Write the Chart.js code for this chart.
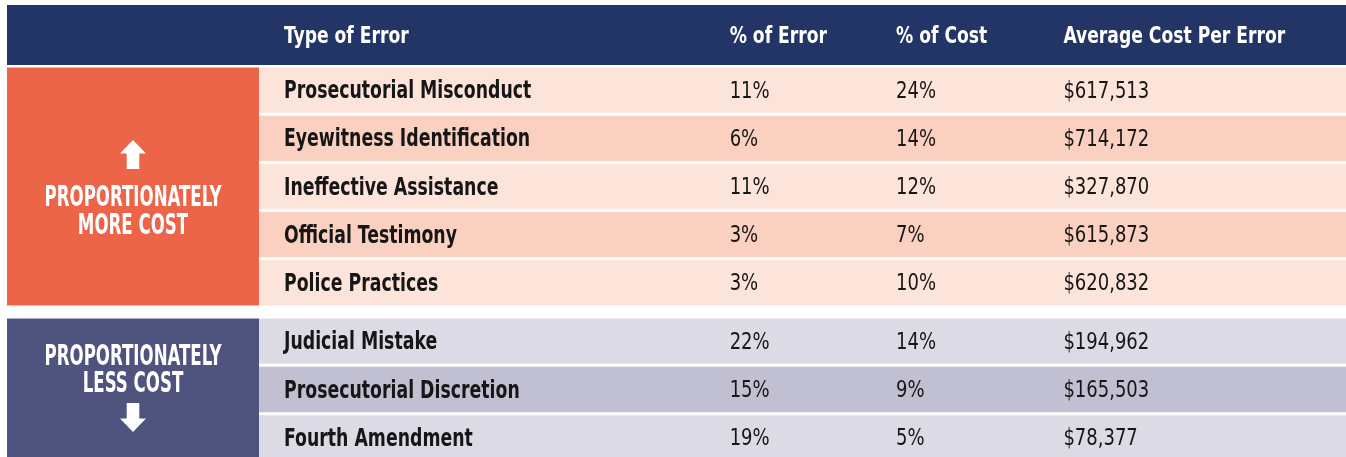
<!DOCTYPE html>
<html>
<head>
<meta charset="utf-8">
<script src="https://cdn.jsdelivr.net/npm/chart.js@4.4.1/dist/chart.umd.min.js"></script>
<style>
    html, body { margin: 0; padding: 0; background: #fff; overflow: hidden; }
    body { width: 1346px; height: 457px; position: relative; }
    canvas { position: absolute; left: 7px; }
    #chart-more { top: 5px; }
    #chart-less { top: 317px; }
</style>
</head>
<body>
<canvas id="chart-more" width="1339" height="302"></canvas>
<canvas id="chart-less" width="1339" height="145"></canvas>
<script>
// column headers
const headerLabels = ["Type of Error", "% of Error", "% of Cost", "Average Cost Per Error"];

// proportionately more cost
const moreLabel = ["PROPORTIONATELY", "MORE COST"];
const moreErrors = ["Prosecutorial Misconduct", "Eyewitness Identification", "Ineffective Assistance", "Official Testimony", "Police Practices"];
const morePctError = [11, 6, 11, 3, 3];
const morePctCost = [24, 14, 12, 7, 10];
const moreAvgCost = [617513, 714172, 327870, 615873, 620832];

// proportionately less cost
const lessLabel = ["PROPORTIONATELY", "LESS COST"];
const lessErrors = ["Judicial Mistake", "Prosecutorial Discretion", "Fourth Amendment"];
const lessPctError = [22, 15, 19];
const lessPctCost = [14, 9, 5];
const lessAvgCost = [194962, 165503, 78377];

// where each column's text starts, in % of the table body width
const columnStarts = [2.3, 43.3, 58.6, 74.0];

// only a normal-width condensed face is installed, so text is squeezed sideways
const NARROW = '"Liberation Sans Narrow", "DejaVu Sans Condensed", sans-serif';
const TEXT = "#161616";

function drawText(ctx, text, x, y, font, color, align, sx) {
    ctx.save();
    ctx.translate(x, y);
    ctx.scale(sx || 1, 1);
    ctx.font = font;
    ctx.fillStyle = color;
    ctx.textAlign = align || "left";
    ctx.textBaseline = "middle";
    ctx.fillText(text, 0, 0);
    ctx.restore();
}

function drawArrow(ctx, cx, cy, dir) {
    ctx.save();
    ctx.translate(cx, cy);
    if (dir === "down") ctx.scale(1, -1);
    ctx.fillStyle = "#ffffff";
    ctx.beginPath();
    ctx.moveTo(0, -14.5);
    ctx.lineTo(13, -1);
    ctx.lineTo(6.3, -1);
    ctx.lineTo(6.3, 14.5);
    ctx.lineTo(-6.3, 14.5);
    ctx.lineTo(-6.3, -1);
    ctx.lineTo(-13, -1);
    ctx.closePath();
    ctx.fill();
    ctx.restore();
}

// header band, group box and cell texts
const tablePlugin = {
    id: "tableCells",
    beforeDraw(chart, args, opts) {
        if (!opts.header) return;
        const xs = chart.scales.x;
        const ctx = chart.ctx;
        ctx.save();
        ctx.fillStyle = "#233566";
        ctx.fillRect(0, xs.top, chart.width, xs.bottom - xs.top - 1);
        ctx.restore();
        const y = (xs.top + xs.bottom) / 2 + 2;
        headerLabels.forEach((label, i) => {
            drawText(ctx, label, xs.getPixelForTick(i), y, "bold 23px " + NARROW, "#ffffff", "left", 0.83);
        });
    },
    beforeDatasetsDraw(chart, args, opts) {
        const ctx = chart.ctx;
        const bars = chart.getDatasetMeta(0).data;
        const first = bars[0], last = bars[bars.length - 1];
        const top = first.y - first.height / 2;
        const bottom = last.y + last.height / 2;
        const cx = chart.chartArea.left / 2;
        const cy = (top + bottom) / 2;
        ctx.save();
        ctx.fillStyle = opts.boxColor;
        ctx.fillRect(0, top, chart.chartArea.left, bottom - top);
        ctx.restore();
        opts.lines.forEach((line, i) => {
            drawText(ctx, line, cx, cy + opts.lineOffsets[i], "bold 28px " + NARROW, "#ffffff", "center", 0.66);
        });
        drawArrow(ctx, cx, cy + opts.arrowOffset, opts.arrow);
    },
    afterDatasetsDraw(chart, args, opts) {
        const ctx = chart.ctx;
        const xs = chart.scales.x;
        const bars = chart.getDatasetMeta(0).data;
        const colX = columnStarts.map(v => xs.getPixelForValue(v));
        bars.forEach((bar, i) => {
            const y = bar.y + 1.5;
            drawText(ctx, opts.names[i], colX[0], y, "bold 25px " + NARROW, TEXT, "left", 0.77);
            drawText(ctx, opts.pctError[i] + "%", colX[1], y, "23px " + NARROW, TEXT, "left", 0.87);
            drawText(ctx, opts.pctCost[i] + "%", colX[2], y, "23px " + NARROW, TEXT, "left", 0.87);
            drawText(ctx, "$" + opts.avgCost[i].toLocaleString("en-US"), colX[3], y, "23px " + NARROW, TEXT, "left", 0.87);
        });
    }
};

function makeTable(canvasId, names, pctError, pctCost, avgCost, colors, group, showHeader) {
    const ctx = document.getElementById(canvasId).getContext("2d");
    return new Chart(ctx, {
        type: "bar",
        data: {
            labels: names,
            datasets: [{
                data: names.map(() => [0, 100]),
                backgroundColor: names.map((_, i) => colors[i % 2]),
                borderWidth: 0,
                barPercentage: 0.9375,
                categoryPercentage: 1
            }]
        },
        options: {
            indexAxis: "y",
            responsive: false,
            animation: false,
            devicePixelRatio: 1,
            layout: { padding: 0 },
            scales: {
                x: {
                    type: "linear",
                    position: "top",
                    display: showHeader,
                    min: 0,
                    max: 100,
                    afterBuildTicks: s => { s.ticks = columnStarts.map(v => ({ value: v })); },
                    afterFit: s => { if (showHeader) s.height = 61; },
                    grid: { display: false, drawTicks: false },
                    border: { display: false },
                    ticks: { display: false }
                },
                y: {
                    type: "category",
                    afterFit: s => { s.width = 252; },
                    grid: { display: false },
                    border: { display: false },
                    ticks: { display: false }
                }
            },
            plugins: {
                legend: { display: false },
                tooltip: { enabled: false },
                tableCells: Object.assign({ header: showHeader, names, pctError, pctCost, avgCost }, group)
            }
        },
        plugins: [tablePlugin]
    });
}

makeTable("chart-more", moreErrors, morePctError, morePctCost, moreAvgCost,
    ["#fde4da", "#fad0c0"],
    { boxColor: "#ec6549", lines: moreLabel, lineOffsets: [12.5, 40], arrow: "up", arrowOffset: -32 },
    true);

makeTable("chart-less", lessErrors, lessPctError, lessPctCost, lessAvgCost,
    ["#dcdbe5", "#c1c0d2"],
    { boxColor: "#4f547f", lines: lessLabel, lineOffsets: [-31.5, -5], arrow: "down", arrowOffset: 28 },
    false);
</script>
</body>
</html>
